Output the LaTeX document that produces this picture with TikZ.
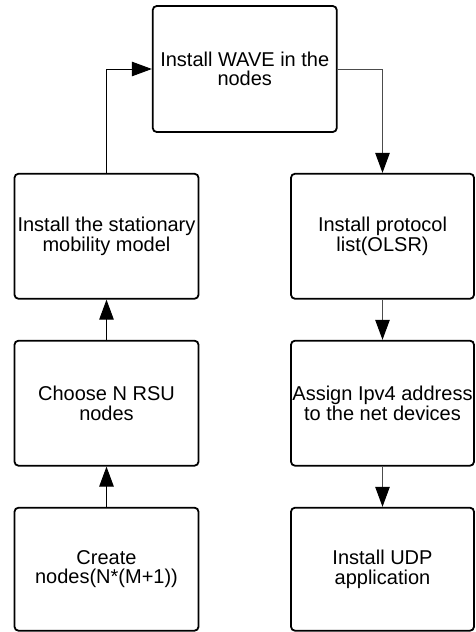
\documentclass[tikz,border=0pt]{standalone}
\usepackage{fontspec}
\setmainfont{Liberation Sans}
\usetikzlibrary{arrows.meta}
\begin{document}
\begin{tikzpicture}[x=1pt,y=-1pt,
  stepbox/.style={draw=black, line width=1.8pt, rounded corners=4pt,
    minimum width=184pt, minimum height=125pt, inner sep=0pt,
    align=center, text=black, font=\fontsize{20pt}{19.5pt}\selectfont},
  flow/.style={line width=1pt, -{Triangle[length=20pt,width=14.5pt]}},
  flowgray/.style={flow, draw=black!70, -{Triangle[length=20pt,width=14.5pt,fill=black,color=black]}}
]
\useasboundingbox (0,0) rectangle (475,632);

% left column
\node[stepbox, minimum height=126pt] (wave) at (244.75,69) {Install WAVE in the\\nodes};
\node[stepbox] (stat)   at (106.5,236.25) {Install the stationary\\mobility model};
\node[stepbox] (rsu)    at (106.5,403.2)  {Choose N RSU\\nodes};
\node[stepbox, minimum height=123pt] (create) at (106.5,569.2) {Create\\nodes(N*(M+1))};

% right column
\node[stepbox, minimum width=183pt] (olsr) at (382.5,236.25) {Install protocol\\list(OLSR)};
\node[stepbox, minimum width=183pt] (ipv4) at (382.5,403.2)  {Assign Ipv4 address\\to the net devices};
\node[stepbox, minimum width=183pt, minimum height=123pt] (udp) at (382.5,569.2) {Install UDP\\application};

% connectors
\draw[flow] (create.north) -- (rsu.south);
\draw[flow] (rsu.north) -- (stat.south);
\draw[flow] (stat.north) |- (wave.west);
\draw[flowgray] (wave.east) -| (olsr.north);
\draw[flowgray] (olsr.south) -- (ipv4.north);
\draw[flowgray] (ipv4.south) -- (udp.north);
\end{tikzpicture}
\end{document}
